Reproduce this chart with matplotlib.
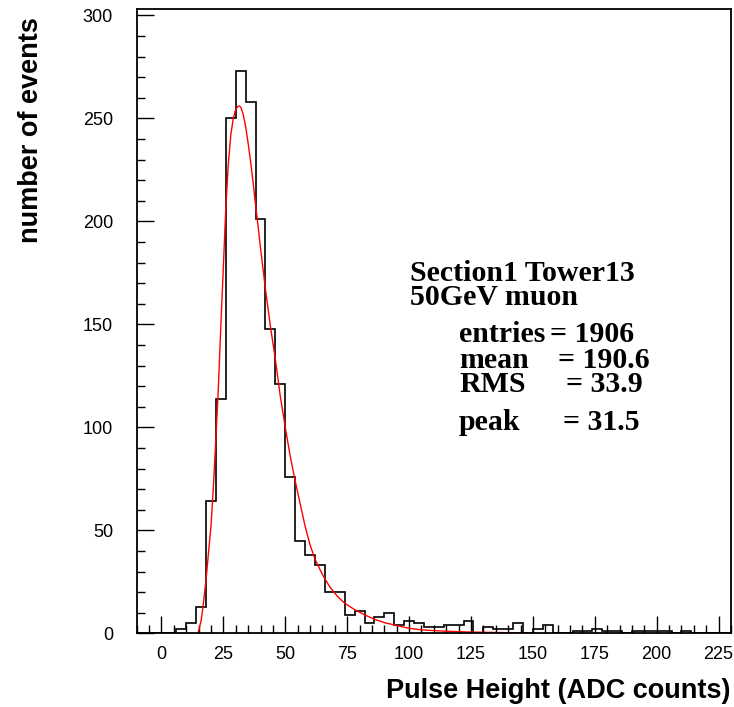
import numpy as np
import matplotlib
matplotlib.use("Agg")
import matplotlib.pyplot as plt
from matplotlib.ticker import MultipleLocator

# ---------------- data ----------------
bin_edges = np.arange(-10, 231, 4)  # 60 bins of width 4 from -10 to 230
counts = [0, 0, 0, 0, 2, 5, 13, 64, 114, 250,
          273, 258, 201, 148, 121, 76, 45, 38, 33, 20,
          20, 9, 11, 5, 8, 10, 4, 6, 5, 3,
          3, 4, 4, 6, 0, 3, 2, 2, 5, 0,
          2, 4, 0, 0, 1, 1, 2, 1, 1, 0,
          1, 1, 1, 1, 0, 1, 0, 0, 0, 0]

fit_x = [14.8, 16, 16.8, 18, 19.1, 20, 21, 22, 23, 24, 25, 26, 27, 28, 29, 30,
         31, 31.5, 32, 33, 34, 35, 36, 37, 38, 39, 40, 42, 44, 46, 48, 50,
         52, 54, 56, 58, 60, 62, 65, 68, 71, 74, 78, 82, 86, 90, 95, 100,
         105, 110, 115, 120, 125, 130, 135, 140, 145]
fit_y = [0.3, 6, 13, 26, 40.5, 52, 72, 95, 120, 150, 178, 207, 228, 242, 250, 254.5,
         256, 256, 255.5, 252, 246, 238, 229, 219, 208, 198, 187, 167, 149, 133, 115, 100,
         86, 74, 63, 52, 43, 36, 28.5, 22.5, 18, 14.6, 11.5, 9, 6.8, 5.2, 3.8, 2.4,
         1.7, 1.3, 1.0, 0.8, 0.6, 0.5, 0.4, 0.3, 0.25]

xticks = [0, 25, 50, 75, 100, 125, 150, 175, 200, 225]
yticks = [0, 50, 100, 150, 200, 250, 300]

title_lines = ["Section1 Tower13", "50GeV muon"]
stat_names = ["entries", "mean", "RMS", "peak"]
stat_values = ["= 1906", "= 190.6", "= 33.9", "= 31.5"]

# ---------------- figure ----------------
W, H = 734, 707
fig = plt.figure(figsize=(W / 100, H / 100), dpi=100)
ax = fig.add_axes([136.7 / W, 1 - 633.3 / H, (731 - 136.7) / W, (633.3 - 9.3) / H])

ax.stairs(counts, bin_edges, color="black", linewidth=1.2, baseline=0)
ax.plot(fit_x, fit_y, color="red", linewidth=1.0)

ax.set_xlim(-10, 230)
ax.set_ylim(0, 303)

ax.set_xticks(xticks)
ax.set_yticks(yticks)
ax.xaxis.set_minor_locator(MultipleLocator(5))
ax.yaxis.set_minor_locator(MultipleLocator(10))
ax.tick_params(which="both", direction="in", top=False, right=False,
               color="black", width=1.0)
ax.tick_params(which="major", length=12)
ax.tick_params(which="minor", length=6)
ax.tick_params(axis="x", which="major", pad=9)
ax.tick_params(axis="y", which="major", pad=17)
for lab in ax.get_xticklabels() + ax.get_yticklabels():
    lab.set_family("Liberation Sans")
    lab.set_fontsize(13)
for s in ax.spines.values():
    s.set_linewidth(1.3)
    s.set_color("black")

# axis titles
fig.text(730 / W, 1 - 698 / H, "Pulse Height (ADC counts)", ha="right", va="baseline",
         family="Liberation Sans", fontweight="bold", fontsize=19.5)
fig.text(31 / W, 1 - 130 / H, "number of events", rotation=90, ha="center", va="center",
         family="Liberation Sans", fontweight="bold", fontsize=19.5)

# annotation block
serif = dict(family="Liberation Serif", fontweight="bold", fontsize=21.5,
             va="baseline", ha="left")
fig.text(410 / W, 1 - 281 / H, title_lines[0], **serif)
fig.text(410 / W, 1 - 305 / H, title_lines[1], **serif)

stat_baselines = [341.7, 368.3, 391.7, 430]
eq_x = [550, 558.3, 565.7, 563.3]
for name, val, yb, ex in zip(stat_names, stat_values, stat_baselines, eq_x):
    fig.text(459 / W, 1 - yb / H, name, **serif)
    fig.text(ex / W, 1 - yb / H, val, **serif)

fig.savefig("out.png", dpi=100)
